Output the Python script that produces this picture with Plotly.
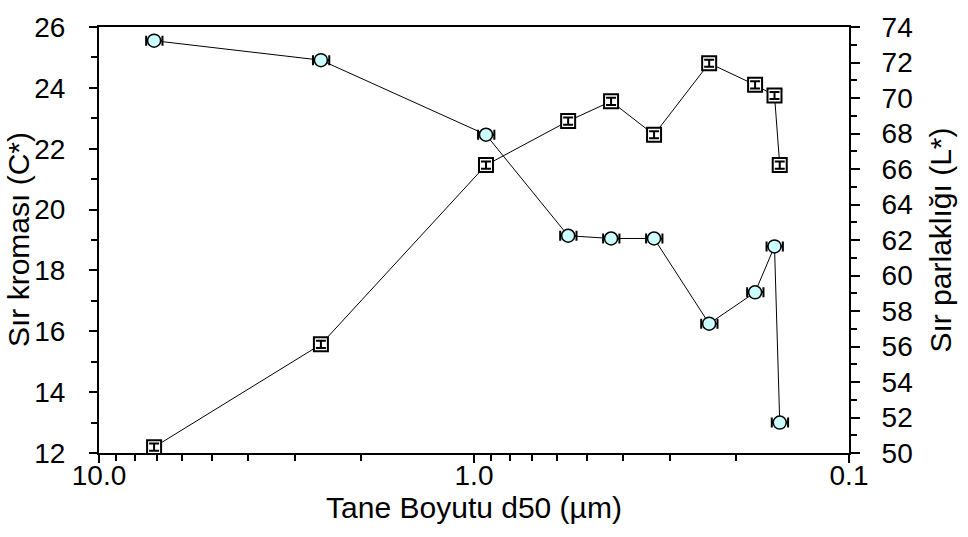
import plotly.graph_objects as go

# Particle size d50 (µm), chroma C* (left axis), lightness L* (right axis)
d50 = [7.13, 2.56, 0.929, 0.561, 0.431, 0.331, 0.236, 0.178, 0.158, 0.153]
chroma = [25.55, 24.91, 22.46, 19.14, 19.05, 19.05, 16.25, 17.28, 18.79, 13.0]
lightness = [50.33, 56.12, 66.22, 68.70, 69.81, 67.93, 71.96, 70.74, 70.14, 66.22]
lightness_err = [0.2] * 10

x_major = [10, 1, 0.1]
x_major_text = ["10.0", "1.0", "0.1"]
x_minor = [m * d for d in (0.1, 1) for m in range(2, 10)]

FONT = "Liberation Sans, Arial, sans-serif"
FS = 28
FT = 30

fig = go.Figure()

# Chroma: cyan circles with horizontal error bars
fig.add_trace(go.Scatter(
    x=d50, y=chroma, mode="lines+markers", yaxis="y",
    line=dict(color="black", width=1),
    marker=dict(symbol="circle", size=13, color="#CCFFFF",
                line=dict(color="black", width=1.5)),
    error_x=dict(type="percent", value=5, color="black", thickness=2, width=5),
    showlegend=False,
))

# Lightness: open squares
fig.add_trace(go.Scatter(
    x=d50, y=lightness, mode="lines+markers", yaxis="y2",
    line=dict(color="black", width=1),
    marker=dict(symbol="square", size=14, color="white",
                line=dict(color="black", width=2)),
    showlegend=False,
))

# Lightness error bars drawn on top of the square markers
fig.add_trace(go.Scatter(
    x=d50, y=lightness, mode="markers", yaxis="y2",
    marker=dict(size=1, color="rgba(0,0,0,0)"),
    error_y=dict(type="data", array=lightness_err, color="black", thickness=2, width=5),
    showlegend=False, hoverinfo="skip",
))

# Left axis title placed as a rotated annotation
fig.add_annotation(
    text="Sır kroması (C*)", textangle=-90,
    xref="paper", yref="paper", x=-0.108, y=0.5,
    xanchor="center", yanchor="middle", showarrow=False,
    font=dict(size=FT, family=FONT, color="black"),
)

fig.update_layout(
    width=968, height=537,
    margin=dict(l=99, r=119, t=18, b=84),
    plot_bgcolor="white", paper_bgcolor="white",
    font=dict(family=FONT, size=FS, color="black"),
    xaxis=dict(
        type="log", range=[1, -1], autorange=False,
        tickmode="array", tickvals=x_major, ticktext=x_major_text,
        ticks="outside", ticklen=8, tickwidth=2, tickcolor="black",
        minor=dict(tickmode="array", tickvals=x_minor, ticks="outside",
                   ticklen=6, tickwidth=1.5, tickcolor="black", showgrid=False),
        showline=True, linecolor="black", linewidth=2, mirror=True,
        showgrid=False, zeroline=False,
        tickfont=dict(size=FS), ticklabelstandoff=-12,
        title=dict(text="Tane Boyutu d50 (µm)", font=dict(size=FT), standoff=6),
    ),
    yaxis=dict(
        range=[12, 26], dtick=2, tick0=12,
        ticks="outside", ticklen=8, tickwidth=2, tickcolor="black",
        minor=dict(dtick=1, ticks="outside", ticklen=6, tickwidth=1.5, tickcolor="black"),
        showline=True, linecolor="black", linewidth=2,
        showgrid=False, zeroline=False,
        tickfont=dict(size=FS), ticklabelstandoff=18,
    ),
    yaxis2=dict(
        range=[50, 74], dtick=2, tick0=50, overlaying="y", side="right",
        ticks="outside", ticklen=9, tickwidth=2, tickcolor="black",
        minor=dict(dtick=1, ticks="outside", ticklen=6, tickwidth=1.5, tickcolor="black"),
        showline=True, linecolor="black", linewidth=2,
        showgrid=False, zeroline=False,
        tickfont=dict(size=FS), ticklabelstandoff=16,
        title=dict(text="Sır parlaklığı (L*)", font=dict(size=FT), standoff=18),
    ),
)

fig.write_html("out.html")
